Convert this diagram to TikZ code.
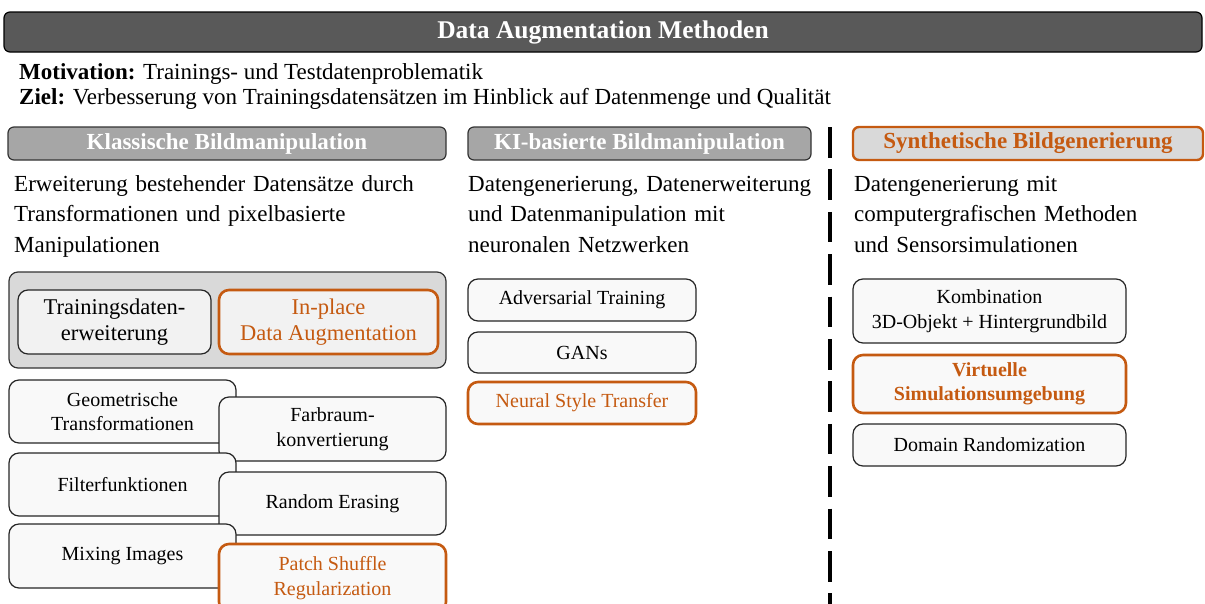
\documentclass[tikz,border=0pt]{standalone}
\usepackage{fontspec}
\setmainfont{Liberation Serif}
\definecolor{accent}{RGB}{197,90,17}
\definecolor{titlegray}{RGB}{89,89,89}
\definecolor{headgray}{RGB}{166,166,166}
\definecolor{panelgray}{RGB}{217,217,217}
\definecolor{boxfill}{RGB}{249,249,249}
\definecolor{innerfill}{RGB}{242,242,242}
\begin{document}
\begin{tikzpicture}[x=1pt,y=-1pt,
  every node/.style={inner sep=0pt},
  titlebar/.style={draw=black, line width=1.2pt, fill=titlegray, rounded corners=6pt,
    text=white, font=\fontsize{25.5}{30}\selectfont\bfseries},
  colhead/.style={draw=black!80, line width=1.2pt, fill=headgray, rounded corners=6pt,
    text=white, font=\fontsize{23}{27}\selectfont\bfseries},
  colheadhl/.style={colhead, draw=accent, line width=2.4pt, fill=panelgray, text=accent},
  desc/.style={anchor=base west, align=left, text width=420pt,
    font=\fontsize{23}{30.5}\selectfont},
  intro/.style={anchor=base west, font=\fontsize{23}{26}\selectfont},
  panel/.style={draw=black!80, line width=1.2pt, fill=panelgray, rounded corners=9pt},
  method/.style={draw=black!85, line width=1.2pt, fill=boxfill, rounded corners=10pt,
    align=center, font=\fontsize{20}{24.5}\selectfont},
  methodhl/.style={method, draw=accent, line width=2.6pt, text=accent},
  bigmethod/.style={method, fill=innerfill, font=\fontsize{22.5}{26}\selectfont},
  bigmethodhl/.style={bigmethod, draw=accent, line width=2.6pt, text=accent},
  separator/.style={line width=4pt, dash pattern=on 30.5pt off 11.9pt}
]
\useasboundingbox (0,0) rectangle (1205,603);
\clip (0,0) rectangle (1205,603);

% title and goals
\node[titlebar, minimum width=1198pt, minimum height=40pt] (title) at (603,32)
  {Data Augmentation Methoden};
\node[intro] (motiv) at (19,79.5) {\textbf{Motivation:} Trainings- und Testdatenproblematik};
\node[intro] (ziel) at (19,104) {\textbf{Ziel:} Verbesserung von Trainingsdatensätzen im Hinblick auf Datenmenge und Qualität};

% column headers
\node[colhead, minimum width=438pt, minimum height=33pt] (hK) at (227,143.5)
  {Klassische Bildmanipulation};
\node[colhead, minimum width=343pt, minimum height=33pt] (hKI) at (639.5,143.5)
  {KI-basierte Bildmanipulation};
\node[colheadhl, minimum width=350pt, minimum height=33pt] (hS) at (1028,143.5)
  {Synthetische Bildgenerierung};

% column descriptions
\node[desc] (dK) at (14,191)
  {Erweiterung bestehender Datensätze durch\\Transformationen und pixelbasierte\\Manipulationen};
\node[desc] (dKI) at (468,191)
  {Datengenerierung, Datenerweiterung\\und Datenmanipulation mit\\neuronalen Netzwerken};
\node[desc] (dS) at (854,191)
  {Datengenerierung mit\\computergrafischen Methoden\\und Sensorsimulationen};

% classic image manipulation
\node[panel, minimum width=437pt, minimum height=96pt] (panelK) at (227.5,320) {};
\node[bigmethod, minimum width=193pt, minimum height=64pt] (train) at (114.5,322)
  {Trainingsdaten-\\erweiterung};
\node[bigmethodhl, minimum width=219pt, minimum height=64pt] (inplace) at (328.5,322)
  {In-place\\Data Augmentation};
\node[method, minimum width=227pt, minimum height=63pt] (geo) at (122.5,411.5)
  {Geometrische\\Transformationen};
\node[method, minimum width=227pt, minimum height=64pt] (farb) at (332.5,429)
  {Farbraum-\\konvertierung};
\node[method, minimum width=227pt, minimum height=63pt] (filter) at (122.5,484.5)
  {Filterfunktionen};
\node[method, minimum width=227pt, minimum height=63pt] (erase) at (332.5,503.5)
  {Random Erasing};
\node[method, minimum width=227pt, minimum height=64pt] (mix) at (122.5,556)
  {Mixing Images};
\node[methodhl, minimum width=227pt, minimum height=68pt] (patch) at (332.5,578)
  {Patch Shuffle\\Regularization};

% AI-based image manipulation
\node[method, minimum width=228pt, minimum height=42pt] (adv) at (582,300)
  {Adversarial Training};
\node[method, minimum width=228pt, minimum height=41pt] (gan) at (582,352.5)
  {GANs};
\node[methodhl, minimum width=228pt, minimum height=42pt] (nst) at (582,403)
  {Neural Style Transfer};

% separator between the real-data and synthetic columns
\coordinate (sepTop) at (830,127);
\coordinate (sepBot) at (830,610);
\draw[separator] (sepTop) -- (sepBot);

% synthetic image generation
\node[method, minimum width=273pt, minimum height=64pt] (komb) at (989.5,311)
  {Kombination\\3D-Objekt + Hintergrundbild};
\node[methodhl, minimum width=273pt, minimum height=58pt, font=\fontsize{20}{24.5}\selectfont\bfseries] (virt) at (989.5,384)
  {Virtuelle\\Simulationsumgebung};
\node[method, minimum width=273pt, minimum height=42pt] (dr) at (989.5,445)
  {Domain Randomization};
\end{tikzpicture}
\end{document}
